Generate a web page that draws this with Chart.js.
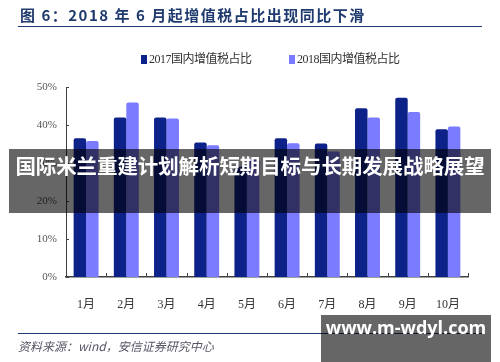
<!DOCTYPE html>
<html><head><meta charset="utf-8">
<script src="https://cdn.jsdelivr.net/npm/chart.js@4"></script>
<style>
html,body{margin:0;padding:0;background:#fff;width:500px;height:362px;overflow:hidden;}
#wrap{position:relative;width:500px;height:362px;}
canvas{position:absolute;left:0;top:0;}
.abs{position:absolute;}
#title{left:20px;top:4px;font:bold 15px "Noto Sans CJK SC","Noto Sans",sans-serif;color:#1F3A6E;letter-spacing:1.5px;white-space:nowrap;}
#tline{left:18px;top:26px;width:464px;height:1px;background:#1F3A6E;}
#bline{left:18px;top:333px;width:464px;height:1px;background:#1F3A6E;}
#src{left:18px;top:337px;font:italic 12px "Noto Sans CJK SC","Noto Sans",sans-serif;color:#556;white-space:nowrap;}
.leg{top:49px;font:12px "Liberation Serif","Noto Sans CJK SC",serif;color:#333;white-space:nowrap;letter-spacing:-0.5px;}
.sw{display:inline-block;width:6px;height:9px;margin-right:2px;vertical-align:-1px;}
#band{left:9px;top:149px;width:482px;height:64px;background:rgba(0,0,0,0.6);}
#bandtxt{left:9px;top:150px;width:482px;height:64px;line-height:64px;text-align:center;font:bold 20.5px "Noto Sans CJK SC",sans-serif;color:#fff;white-space:nowrap;letter-spacing:-0.1px;}
#wm{left:321px;top:315px;width:170px;height:47px;background:rgba(0,0,0,0.6);}
#wmtxt{left:321px;top:315px;width:170px;height:40px;line-height:40px;text-align:center;font:bold 18px "Open Sans","DejaVu Sans",sans-serif;color:#fff;}
</style></head>
<body><div id="wrap">
<canvas id="c" width="500" height="362"></canvas>
<div class="abs" id="title">图 6：2018 年 6 月起增值税占比出现同比下滑</div>
<div class="abs" id="tline"></div>
<div class="abs leg" style="left:141px;"><span class="sw" style="background:#0D2289"></span>2017国内增值税占比</div>
<div class="abs leg" style="left:289px;"><span class="sw" style="background:#7B7BFF"></span>2018国内增值税占比</div>
<div class="abs" id="bline"></div>
<div class="abs" id="src">资料来源：wind，安信证券研究中心</div>
<div class="abs" id="band"></div>
<div class="abs" id="bandtxt">国际米兰重建计划解析短期目标与长期发展战略展望</div>
<div class="abs" id="wm"></div>
<div class="abs" id="wmtxt">www.m-wdyl.com</div>
</div>
<script>
const categories = ["1月","2月","3月","4月","5月","6月","7月","8月","9月","10月"];
const vat2017 = [36.5, 42.0, 42.0, 35.4, 29.0, 36.5, 35.1, 44.4, 47.2, 38.9];
const vat2018 = [35.8, 45.9, 41.7, 34.7, 31.0, 35.2, 33.0, 42.0, 43.4, 39.6];
const seriesNames = ["2017国内增值税占比","2018国内增值税占比"];
const yTicks = [0,10,20,30,40,50];

const innerTicks = {
  id:'innerTicks',
  afterDraw(chart){
    const ctx = chart.ctx, x = chart.scales.x, y = chart.scales.y;
    ctx.save();
    ctx.strokeStyle = '#404040';
    ctx.lineWidth = 1;
    ctx.beginPath();
    yTicks.forEach(v=>{
      const py = Math.round(y.getPixelForValue(v))+0.5;
      ctx.moveTo(x.left, py); ctx.lineTo(x.left+3, py);
    });
    const n = categories.length;
    for(let i=1;i<=n;i++){
      const px = Math.round(i<n ? (x.getPixelForValue(i-1)+x.getPixelForValue(i))/2 : x.right)+0.5;
      ctx.moveTo(px, y.bottom); ctx.lineTo(px, y.bottom-4);
    }
    ctx.stroke();
    ctx.restore();
  }
};

new Chart(document.getElementById('c'), {
  type:'bar',
  data:{
    labels:categories,
    datasets:[
      {label:seriesNames[0], data:vat2017, backgroundColor:'#0D2289', borderWidth:0, borderRadius:{topLeft:2,topRight:2}},
      {label:seriesNames[1], data:vat2018, backgroundColor:'#7B7BFF', borderWidth:0, borderRadius:{topLeft:2,topRight:2}}
    ]
  },
  options:{
    responsive:false,
    animation:false,
    layout:{padding:{left:0,right:32,top:87,bottom:0}},
    plugins:{legend:{display:false},title:{display:false},tooltip:{enabled:true}},
    datasets:{bar:{categoryPercentage:0.62,barPercentage:1.0}},
    scales:{
      x:{
        afterFit(s){ s.height = 85; },
        grid:{display:false,drawTicks:false},
        border:{display:true,color:'#404040',width:1.5},
        ticks:{padding:21,color:'#333',font:{family:'"Liberation Serif","Noto Sans CJK SC",serif',size:12}}
      },
      y:{
        min:0,max:50,
        afterFit(s){ s.width = 66; },
        afterBuildTicks(s){ s.ticks = yTicks.map(v=>({value:v})); },
        grid:{display:false,drawTicks:false},
        border:{display:true,color:'#404040',width:1},
        ticks:{padding:9,color:'#555',font:{family:'"Liberation Serif",serif',size:11},callback:v=>v+'%'}
      }
    }
  },
  plugins:[innerTicks]
});
</script>
</body></html>
